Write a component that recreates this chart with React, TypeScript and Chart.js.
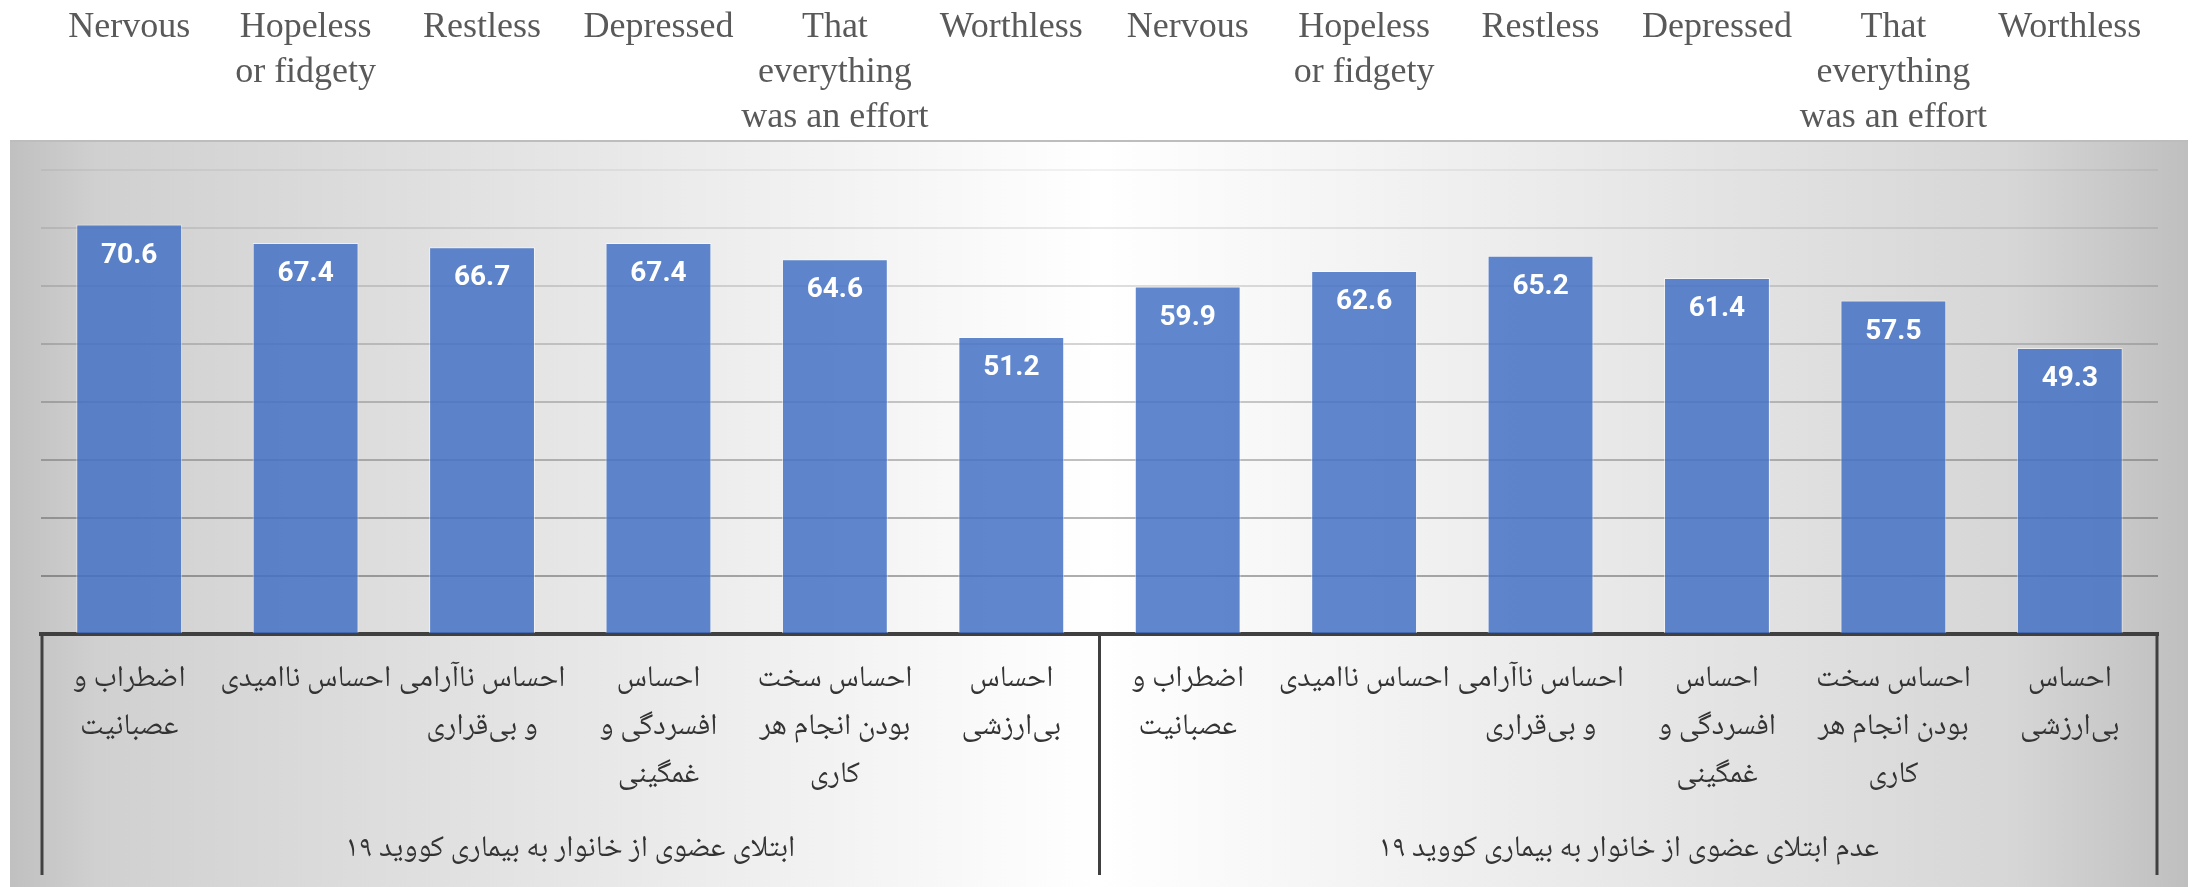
import React, { useEffect, useRef } from 'react';
import { Chart, registerables } from 'chart.js';

Chart.register(...registerables);

// ---- data ----
const persianCategories: (string | string[])[] = [
  ['اضطراب و', 'عصبانیت'],
  'احساس ناامیدی',
  ['احساس ناآرامی', 'و بی\u200cقراری'],
  ['احساس', 'افسردگی و', 'غمگینی'],
  ['احساس سخت', 'بودن انجام هر', 'کاری'],
  ['احساس', 'بی\u200cارزشی'],
];
const englishCategories: (string | string[])[] = [
  'Nervous',
  ['Hopeless', 'or fidgety'],
  'Restless',
  'Depressed',
  ['That', 'everything', 'was an effort'],
  'Worthless',
];
const groupLabels = [
  'ابتلای عضوی از خانوار به بیماری کووید ۱۹',
  'عدم ابتلای عضوی از خانوار به بیماری کووید ۱۹',
];
const infectedValues = [70.6, 67.4, 66.7, 67.4, 64.6, 51.2];
const notInfectedValues = [59.9, 62.6, 65.2, 61.4, 57.5, 49.3];
const yMin = 0;
const yMax = 80;
const yStep = 10;

// ---- styles ----
const W = 2203;
const H = 887;
const PERSIAN_FONT = "'Noto Naskh Arabic', 'Noto Serif Arabic', 'Noto Sans Arabic', 'DejaVu Sans', sans-serif";
const BG = { left: 10, right: 2188, top: 141 };

const backgroundPlugin = {
  id: 'bgPanel',
  beforeDraw(chart: any) {
    const ctx = chart.ctx;
    ctx.save();
    const g = ctx.createLinearGradient(BG.left, 0, BG.right, 0);
    g.addColorStop(0, '#c0c0c0');
    g.addColorStop(0.04, '#d0d0d0');
    g.addColorStop(0.5, '#ffffff');
    g.addColorStop(0.92, '#d6d6d6');
    g.addColorStop(1, '#bfbfbf');
    ctx.fillStyle = g;
    ctx.fillRect(BG.left, BG.top, BG.right - BG.left, chart.height - BG.top);
    ctx.strokeStyle = '#bdbdbd';
    ctx.lineWidth = 2;
    ctx.beginPath();
    ctx.moveTo(BG.left, BG.top);
    ctx.lineTo(BG.right, BG.top);
    ctx.stroke();
    ctx.restore();
  },
};

const separatorPlugin = {
  id: 'groupSeparators',
  afterDraw(chart: any) {
    const x = chart.scales.x;
    const ctx = chart.ctx;
    const n = persianCategories.length;
    const xs = [x.left + 1, x.getPixelForValue(n - 0.5), x.right - 1];
    ctx.save();
    ctx.strokeStyle = '#404040';
    ctx.lineWidth = 3;
    xs.forEach((px: number) => {
      ctx.beginPath();
      ctx.moveTo(px, chart.chartArea.bottom);
      ctx.lineTo(px, chart.height - 12);
      ctx.stroke();
    });
    ctx.restore();
  },
};

const valueLabelPlugin = {
  id: 'valueLabels',
  afterDatasetsDraw(chart: any) {
    const ctx = chart.ctx;
    const meta = chart.getDatasetMeta(0);
    const data = chart.data.datasets[0].data as number[];
    ctx.save();
    ctx.fillStyle = '#ffffff';
    ctx.font = "bold 28px 'Liberation Sans Narrow', Roboto, sans-serif";
    ctx.textAlign = 'center';
    ctx.textBaseline = 'middle';
    meta.data.forEach((bar: any, i: number) => {
      ctx.fillText(data[i].toFixed(1), bar.x, bar.y + 31);
    });
    ctx.restore();
  },
};

export default function App() {
  const ref = useRef<HTMLCanvasElement>(null);
  useEffect(() => {
    document.body.style.margin = '0';
    const chart = new Chart(ref.current!, {
      type: 'bar',
      data: {
        labels: [...persianCategories, ...persianCategories],
        datasets: [
          {
            data: [...infectedValues, ...notInfectedValues],
            backgroundColor: 'rgba(68,114,196,0.85)',
            borderColor: 'rgba(255,255,255,0.55)',
            borderWidth: 1,
            categoryPercentage: 1,
            barPercentage: 0.6,
            xAxisID: 'x',
          },
        ],
      },
      options: {
        responsive: false,
        animation: false,
        layout: { padding: { top: -24, left: 41, right: 45, bottom: 9 } },
        plugins: { legend: { display: false }, tooltip: { enabled: false } },
        scales: {
          xTop: {
            type: 'category',
            position: 'top',
            labels: [...englishCategories, ...englishCategories] as any,
            offset: true,
            grid: { display: false, drawTicks: false },
            border: { display: false },
            ticks: {
              autoSkip: false,
              maxRotation: 0,
              minRotation: 0,
              crossAlign: 'far',
              padding: 29.5,
              color: '#595959',
              font: { family: "'Liberation Serif', 'Times New Roman', serif", size: 36, lineHeight: 1.25 },
            },
          },
          x: {
            type: 'category',
            position: 'bottom',
            offset: true,
            weight: 0,
            grid: { display: false, drawTicks: false },
            border: { display: true, color: '#404040', width: 4 },
            ticks: {
              autoSkip: false,
              maxRotation: 0,
              minRotation: 0,
              padding: 24,
              color: '#333333',
              font: { family: PERSIAN_FONT, size: 30, lineHeight: 1.6 },
            },
          },
          xg: {
            type: 'category',
            position: 'bottom',
            labels: groupLabels,
            offset: true,
            weight: 1,
            grid: { display: false, drawTicks: false },
            border: { display: false },
            ticks: {
              autoSkip: false,
              maxRotation: 0,
              minRotation: 0,
              padding: 6.5,
              color: '#333333',
              font: { family: PERSIAN_FONT, size: 30, lineHeight: 1.3 },
            },
          },
          y: {
            min: yMin,
            max: yMax,
            ticks: { display: false, stepSize: yStep },
            grid: {
              color: (c: any) => {
                const v = c.tick ? c.tick.value : 0;
                const a = 0.06 + ((yMax - v) / (yMax - yStep)) * 0.3;
                return `rgba(30,30,30,${a.toFixed(3)})`;
              },
              lineWidth: 2,
              drawTicks: false,
            },
            border: { display: false },
          },
        },
      },
      plugins: [backgroundPlugin, separatorPlugin, valueLabelPlugin],
    } as any);
    return () => chart.destroy();
  }, []);
  return (
    <div style={{ width: W, height: H }}>
      <canvas ref={ref} width={W} height={H} style={{ display: 'block', width: W, height: H }} />
    </div>
  );
}
